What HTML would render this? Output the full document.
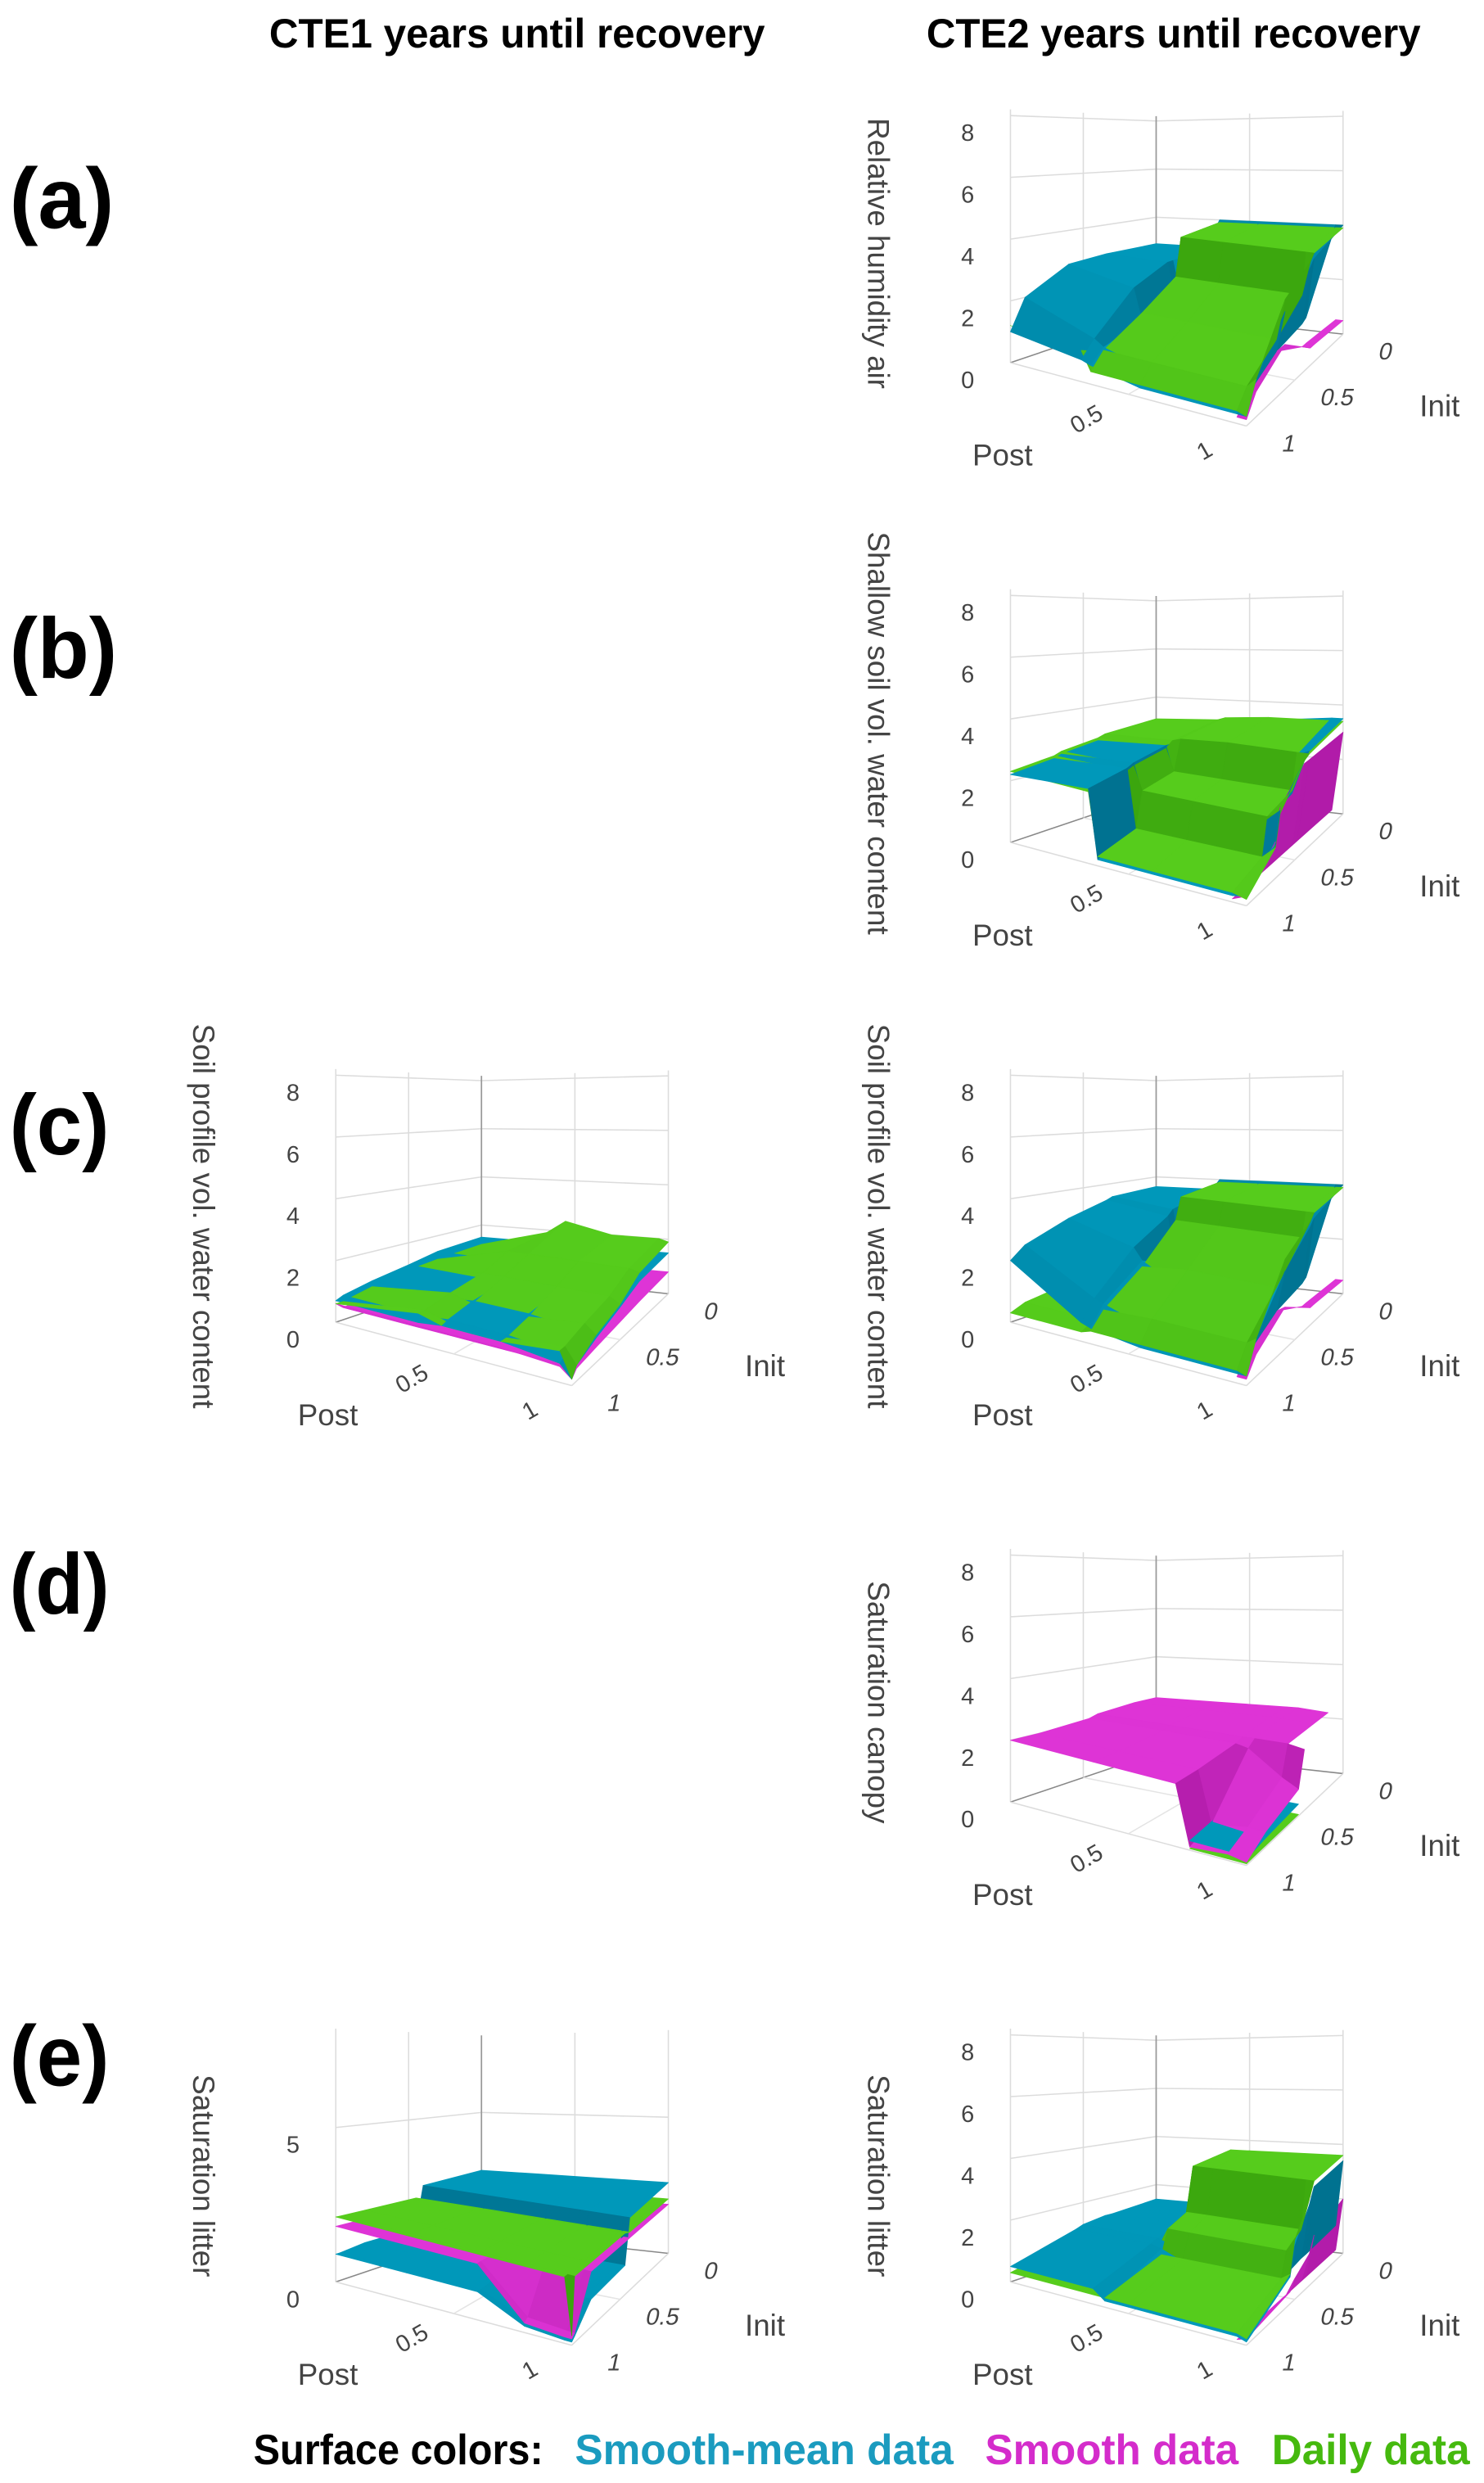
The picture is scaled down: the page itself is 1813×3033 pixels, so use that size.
<!DOCTYPE html>
<html><head><meta charset="utf-8"><title>CTE years until recovery</title>
<style>html,body{margin:0;padding:0;background:#fff}svg{display:block}
text{font-family:"Liberation Sans",sans-serif}</style></head>
<body>
<svg id="fig" xmlns="http://www.w3.org/2000/svg" width="1813" height="3033" viewBox="0 0 937 1568" preserveAspectRatio="none">
<text x="170" y="30" font-size="26" font-weight="bold" textLength="313" lengthAdjust="spacingAndGlyphs" fill="#000">CTE1 years until recovery</text>
<text x="585" y="30" font-size="26" font-weight="bold" textLength="312" lengthAdjust="spacingAndGlyphs" fill="#000">CTE2 years until recovery</text>
<text x="6" y="144" font-size="54" font-weight="bold" textLength="66" lengthAdjust="spacingAndGlyphs">(a)</text>
<text x="6" y="428" font-size="54" font-weight="bold" textLength="68" lengthAdjust="spacingAndGlyphs">(b)</text>
<text x="6" y="729" font-size="54" font-weight="bold" textLength="63" lengthAdjust="spacingAndGlyphs">(c)</text>
<text x="6" y="1019" font-size="54" font-weight="bold" textLength="63" lengthAdjust="spacingAndGlyphs">(d)</text>
<text x="6" y="1317" font-size="54" font-weight="bold" textLength="63" lengthAdjust="spacingAndGlyphs">(e)</text>
<g>
<text x="160" y="1556" font-size="27" font-weight="bold" textLength="183" lengthAdjust="spacingAndGlyphs" fill="#000">Surface colors:</text>
<text x="363" y="1556" font-size="27" font-weight="bold" textLength="239" lengthAdjust="spacingAndGlyphs" fill="#1a9bbf">Smooth-mean data</text>
<text x="622" y="1556" font-size="27" font-weight="bold" textLength="160" lengthAdjust="spacingAndGlyphs" fill="#d42ccb">Smooth data</text>
<text x="803" y="1556" font-size="27" font-weight="bold" textLength="125" lengthAdjust="spacingAndGlyphs" fill="#45b90e">Daily data</text>
</g>
</svg>
<script>
const zTicksFull = [0, 2, 4, 6, 8];
const zTicksLitter1 = [0, 5];
const postTicks = [0.5, 1];
const initTicks = [0, 0.5, 1];

// (a) CTE2 relative humidity air — rows = init, cols = post
const aR_post = [0, 0.3, 0.34, 0.55, 0.96, 1];
const aR_init = [0, 0.3, 0.34, 0.6, 0.9, 1];
const aR_blue = [[2.9,2.9,4.0,4.0,4.0,4.0],[2.9,2.9,1.5,1.5,1.5,3.6],[2.9,2.9,1.4,1.4,1.4,3.4],[2.8,2.4,1.3,1.2,1.2,2.6],[2.0,1.2,1.0,0.6,0.6,1.2],[1.0,0.7,0.6,0.3,0.3,0.3]];
const aR_magenta = [[null,null,null,null,0.5,0.5],[null,null,null,null,0.6,0.6],[null,null,null,null,0.6,0.6],[null,null,null,null,1.2,1.5],[null,null,null,null,0.6,0.8],[null,null,null,null,0.2,0.2]];
const aR_green = [[1.0,1.0,3.9,3.9,3.9,3.9],[1.0,1.0,3.8,3.8,3.8,3.8],[0.9,0.9,2.4,2.4,2.4,3.6],[0.8,0.8,1.6,1.6,1.6,3.0],[0.9,0.8,0.9,0.9,0.9,1.2],[1.2,1.0,0.4,0.4,0.4,0.3]];
// (b) CTE2 shallow soil
const bR_post = [0, 0.33, 0.37, 0.6, 0.94, 1];
const bR_init = [0, 0.35, 0.4, 0.65, 0.7, 1];
const bR_blue = [[3.0,3.1,3.2,3.3,3.5,3.5],[2.8,2.9,3.0,3.1,3.1,3.3],[2.7,2.9,1.9,1.9,1.9,3.1],[2.5,2.7,1.7,1.7,1.7,2.1],[2.4,2.6,0.5,0.5,0.5,1.1],[2.2,2.4,0.2,0.2,0.2,0.3]];
const bR_magenta = [[null,null,null,null,0.1,3.0],[null,null,null,null,0.1,3.0],[null,null,null,null,0.1,3.0],[null,null,null,null,0.1,2.2],[null,null,null,null,0.1,1.2],[null,null,null,null,0.1,0.3]];
const bR_green = [[3.1,3.2,3.3,3.4,3.4,3.4],[2.9,3.0,3.1,3.2,3.2,3.2],[2.8,2.8,2.0,2.0,2.0,3.1],[2.6,2.6,1.8,1.8,1.8,2.0],[2.5,2.5,0.6,0.6,0.6,1.0],[2.3,2.3,0.3,0.3,0.3,0.2]];
// (c) CTE1 soil profile
const cL_post = [0, 0.35, 0.45, 0.7, 0.95, 1];
const cL_init = [0, 0.3, 0.5, 0.75, 0.95, 1];
const cL_blue = [[1.5,1.5,1.5,1.5,1.5,1.5],[1.4,1.4,1.4,1.4,1.4,1.4],[1.2,1.2,1.2,1.2,1.2,1.1],[1.0,1.0,1.1,1.1,0.9,0.8],[0.8,0.8,0.9,0.9,0.7,0.5],[0.7,0.7,0.8,0.8,0.6,0.2]];
const cL_magenta = [[0.8,0.8,0.8,0.8,0.8,0.8],[0.7,0.7,0.7,0.7,0.7,0.7],[0.6,0.6,0.6,0.6,0.6,0.6],[0.5,0.5,0.5,0.5,0.5,0.5],[0.4,0.4,0.4,0.4,0.4,0.4],[0.6,0.6,0.6,0.6,0.5,0.2]];
const cL_green = [[1.2,1.9,2.4,2.0,2.0,1.9],[1.1,1.8,1.8,1.8,1.8,1.7],[1.0,1.4,1.4,1.4,1.4,1.2],[0.8,1.2,1.0,1.0,1.2,0.9],[0.6,1.0,0.8,0.8,1.0,0.5],[0.6,1.0,0.8,0.8,1.0,0.2]];
// (c) CTE2 soil profile
const cR_post = [0, 0.3, 0.34, 0.55, 0.96, 1];
const cR_init = [0, 0.3, 0.34, 0.6, 0.9, 1];
const cR_blue = [[3.6,3.6,4.0,4.0,4.0,4.0],[3.5,3.3,1.5,1.5,1.5,3.6],[3.4,3.1,1.4,1.4,1.4,3.4],[3.0,2.4,2.0,1.2,1.2,2.6],[2.4,1.2,1.1,0.6,0.6,1.2],[2.0,0.6,0.5,0.3,0.3,0.3]];
const cR_magenta = [[null,null,null,null,0.5,0.5],[null,null,null,null,0.6,0.6],[null,null,null,null,0.6,0.6],[null,null,null,null,1.2,1.4],[null,null,null,null,0.6,0.7],[null,null,null,null,0.2,0.2]];
const cR_green = [[1.0,1.0,3.9,3.9,3.9,3.9],[1.0,1.0,3.8,3.8,3.8,3.8],[0.9,0.9,3.0,3.0,3.0,3.6],[0.7,0.7,1.8,2.0,2.0,3.0],[0.5,0.5,0.9,1.0,1.0,1.2],[0.3,0.3,0.4,0.4,0.4,0.3]];
// (d) CTE2 saturation canopy
const dR_post = [0, 0.35, 0.7, 0.76, 0.92, 1];
const dR_init = [0, 0.15, 0.4, 0.46, 0.8, 1];
const dR_blue = [[null,null,null,null,null,null],[null,null,null,null,null,null],[null,null,null,null,null,null],[null,null,null,0.4,0.4,0.4],[null,null,null,0.4,0.3,0.3],[null,null,null,0.3,0.3,0.2]];
const dR_magenta = [[2.3,2.3,2.3,2.3,2.2,null],[2.3,2.3,2.3,2.3,2.2,null],[2.2,2.2,2.2,2.2,2.2,2.1],[2.1,2.1,2.1,2.0,1.2,0.9],[2.0,2.0,2.0,0.3,0.5,0.5],[2.0,2.0,2.0,0.1,0.2,0.1]];
const dR_green = [[null,null,null,null,null,null],[null,null,null,null,null,null],[null,null,null,null,null,null],[null,null,null,0.05,0.05,0.05],[null,null,null,0.05,0.05,0.05],[null,null,null,0.05,0.05,0.05]];
// (e) CTE1 saturation litter
const eL_post = [0, 0.3, 0.6, 0.8, 0.97, 1];
const eL_init = [0, 0.4, 0.45, 0.8, 0.97, 1];
const eL_blue = [[2.6,2.6,2.6,2.6,2.6,2.6],[2.5,2.5,2.5,2.5,2.5,2.5],[1.0,1.0,1.0,1.0,1.0,1.0],[1.0,1.0,1.0,1.0,0.9,0.9],[0.9,0.9,0.9,0.3,0.2,0.2],[0.9,0.9,0.9,0.2,0.1,0.1]];
const eL_magenta = [[1.8,1.8,1.8,1.8,1.8,1.8],[1.8,1.8,1.8,1.8,1.8,1.8],[1.8,1.8,1.8,1.8,1.8,1.8],[1.8,1.8,1.8,1.8,1.8,1.8],[1.8,1.8,1.8,0.4,0.3,0.3],[1.8,1.8,1.8,0.3,0.2,0.2]];
const eL_green = [[2.0,2.0,2.0,2.0,2.0,2.0],[2.0,2.0,2.0,2.0,2.0,2.0],[2.1,2.1,2.1,2.1,2.1,2.1],[2.1,2.1,2.1,2.1,2.1,2.1],[2.1,2.1,2.1,2.1,2.1,2.1],[2.1,2.1,2.1,2.1,2.1,0.3]];
// (e) CTE2 saturation litter
const eR_post = [0, 0.35, 0.4, 0.5, 0.96, 1];
const eR_init = [0, 0.3, 0.35, 0.5, 0.55, 1];
const eR_blue = [[1.4,1.4,1.4,1.0,1.0,3.4],[1.3,1.3,1.3,0.9,0.9,3.3],[1.3,1.3,1.2,0.9,0.9,2.8],[1.2,1.2,1.1,0.8,0.8,1.8],[1.1,1.1,1.0,0.7,0.7,0.9],[0.5,0.5,0.2,0.2,0.2,0.1]];
const eR_magenta = [[null,null,null,null,0.1,2.0],[null,null,null,null,0.1,1.6],[null,null,null,null,0.1,1.1],[null,null,null,null,0.1,0.7],[null,null,null,null,0.1,0.4],[null,null,null,null,0.1,0.2]];
const eR_green = [[0.9,0.9,3.6,3.6,3.6,3.6],[0.9,0.9,3.5,3.5,3.5,3.5],[0.9,0.9,1.9,1.9,1.9,3.0],[0.8,0.8,1.6,1.6,1.6,2.0],[0.8,0.8,0.8,0.8,0.8,1.0],[0.3,0.3,0.3,0.3,0.3,0.2]];

const svg = document.getElementById('fig');
const NS = 'http://www.w3.org/2000/svg';
const B = {x:730,y:198,s:15.2}, R = {x:848,y:211,s:17.2}, L = {x:638,y:229,s:19.5}, F = {x:787,y:269,s:20};
const ZTOP = 8.2;

function proj(p, i, z, dx, dy) {
  const w0=(1-p)*(1-i), w1=p*(1-i), w2=(1-p)*i, w3=p*i;
  const x = w0*B.x+w1*R.x+w2*L.x+w3*F.x;
  const y = w0*B.y+w1*R.y+w2*L.y+w3*F.y;
  const s = w0*B.s+w1*R.s+w2*L.s+w3*F.s;
  return [x+dx, y+dy - z*s];
}
function mk(tag, attrs, parent) {
  const el = document.createElementNS(NS, tag);
  for (const k in attrs) el.setAttribute(k, attrs[k]);
  parent.appendChild(el);
  return el;
}
const COLORS = {
  blue: {light:[0,152,186], dark:[0,108,138]},
  magenta: {light:[222,52,214], dark:[168,22,160]},
  green: {light:[86,204,28], dark:[52,156,10]}
};

function drawPanel(name, dx, dy, ylabel, ticks, postG, initG, series) {
  const g = mk('g', {}, svg);
  
  
  const P = (p,i,z) => proj(p,i,z,dx,dy);
  const ln = (a,b,col,w,nm) => {
    const l = mk('line', {x1:a[0],y1:a[1],x2:b[0],y2:b[1],stroke:col,'stroke-width':w}, g);
    
    
  };
  const zt = ZTOP;
  ticks.forEach(t => {
    if (t === 0) return;
    ln(P(0,1,t), P(0,0,t), '#dcdcdc', 0.8, 'gridline-z');
    ln(P(0,0,t), P(1,0,t), '#dcdcdc', 0.8, 'gridline-z');
  });
  ln(P(0,0.5,0), P(0,0.5,zt), '#dcdcdc', 0.8, 'gridline-init');
  ln(P(0.5,0,0), P(0.5,0,zt), '#dcdcdc', 0.8, 'gridline-post');
  ln(P(0,1,0), P(0,1,zt), '#dcdcdc', 0.8, 'wall-edge');
  ln(P(1,0,0), P(1,0,zt), '#dcdcdc', 0.8, 'wall-edge');
  ln(P(0,0,0), P(0,0,zt), '#999', 0.9, 'back-axis-line');
  ln(P(0,0,0), P(0,1,0), '#888', 0.8, 'floor-edge');
  ln(P(0,0,0), P(1,0,0), '#888', 0.8, 'floor-edge');
  ln(P(0,1,0), P(1,1,0), '#dcdcdc', 0.8, 'post-axis-line');
  ln(P(1,0,0), P(1,1,0), '#dcdcdc', 0.8, 'init-axis-line');
  ln(P(0.5,0,0), P(0.5,1,0), '#e4e4e4', 0.8, 'floor-grid');
  ln(P(0,0.5,0), P(1,0.5,0), '#e4e4e4', 0.8, 'floor-grid');

  const quads = [];
  for (const key in series) {
    const grid = series[key];
    for (let r = 0; r < initG.length-1; r++) {
      for (let c = 0; c < postG.length-1; c++) {
        const zz = [grid[r][c], grid[r][c+1], grid[r+1][c+1], grid[r+1][c]];
        if (zz.some(v => v === null)) continue;
        const pp = [postG[c], postG[c+1], postG[c+1], postG[c]];
        const ii = [initG[r], initG[r], initG[r+1], initG[r+1]];
        quads.push({key, pp, ii, zz, depth: (pp[0]+pp[1])/2 + (ii[0]+ii[2])/2, zavg: (zz[0]+zz[1]+zz[2]+zz[3])/4});
      }
    }
  }
  quads.sort((a,b) => (a.depth - b.depth) || (a.zavg - b.zavg));
  quads.forEach(q => {
    const k = 1/8;
    const v1 = [q.pp[2]-q.pp[0], q.ii[2]-q.ii[0], (q.zz[2]-q.zz[0])*k];
    const v2 = [q.pp[3]-q.pp[1], q.ii[3]-q.ii[1], (q.zz[3]-q.zz[1])*k];
    const n = [v1[1]*v2[2]-v1[2]*v2[1], v1[2]*v2[0]-v1[0]*v2[2], v1[0]*v2[1]-v1[1]*v2[0]];
    const len = Math.hypot(n[0],n[1],n[2]) || 1;
    const f = Math.abs(n[2])/len;
    const col = COLORS[q.key];
    const rgb = col.light.map((v,j) => Math.round(col.dark[j] + (v-col.dark[j])*f));
    const pts = [0,1,2,3].map(j => P(q.pp[j], q.ii[j], q.zz[j]).map(v=>v.toFixed(1)).join(',')).join(' ');
    const fill = 'rgb(' + rgb.join(',') + ')';
    const poly = mk('polygon', {points: pts, fill: fill, stroke: fill, 'stroke-width': 0.4, 'stroke-linejoin':'round'}, g);
    
    
  });

  ticks.forEach(t => {
    const pt = P(0,1,t);
    const tx = mk('text', {x: pt[0]-27, y: pt[1]+16, 'font-size': 15, fill: '#444', 'text-anchor': 'middle'}, g);
    
    
    tx.textContent = String(t);
  });
  postTicks.forEach(t => {
    const pt = P(t,1,0);
    const tx = mk('text', {x: 0, y: 0, 'font-size': 15, fill: '#444', 'text-anchor': 'middle', transform: `translate(${(pt[0]-24).toFixed(1)},${(pt[1]+20).toFixed(1)}) rotate(-30)`}, g);
    
    
    tx.textContent = String(t);
  });
  initTicks.forEach(t => {
    const pt = P(1,t,0);
    const tx = mk('text', {x: 0, y: 0, 'font-size': 15, fill: '#444', 'text-anchor': 'middle', transform: `translate(${(pt[0]+26).toFixed(1)},${(pt[1]+16).toFixed(1)}) skewX(-12)`}, g);
    
    
    tx.textContent = String(t);
  });
  const pl = mk('text', {x: 633+dx, y: 294+dy, 'font-size': 19, fill: '#444', 'text-anchor': 'middle'}, g);
  
  
  pl.textContent = 'Post';
  const il = mk('text', {x: 909+dx, y: 263+dy, 'font-size': 19, fill: '#444', 'text-anchor': 'middle'}, g);
  
  
  il.textContent = 'Init';
  const yl = mk('text', {x: 0, y: 0, 'font-size': 19, fill: '#444', 'text-anchor': 'middle', transform: `translate(${548+dx},${ylabel[1]+dy}) rotate(90)`}, g);
  
  
  yl.textContent = ylabel[0];
}

drawPanel('panel-a-cte2', 0, 0, ['Relative humidity air', 160], zTicksFull, aR_post, aR_init, {blue: aR_blue, magenta: aR_magenta, green: aR_green});
drawPanel('panel-b-cte2', 0, 303, ['Shallow soil vol. water content', 160], zTicksFull, bR_post, bR_init, {blue: bR_blue, magenta: bR_magenta, green: bR_green});
drawPanel('panel-c-cte1', -426, 606, ['Soil profile vol. water content', 162], zTicksFull, cL_post, cL_init, {magenta: cL_magenta, blue: cL_blue, green: cL_green});
drawPanel('panel-c-cte2', 0, 606, ['Soil profile vol. water content', 162], zTicksFull, cR_post, cR_init, {blue: cR_blue, magenta: cR_magenta, green: cR_green});
drawPanel('panel-d-cte2', 0, 909, ['Saturation canopy', 166], zTicksFull, dR_post, dR_init, {blue: dR_blue, magenta: dR_magenta, green: dR_green});
drawPanel('panel-e-cte1', -426, 1212, ['Saturation litter', 162], zTicksLitter1, eL_post, eL_init, {blue: eL_blue, magenta: eL_magenta, green: eL_green});
drawPanel('panel-e-cte2', 0, 1212, ['Saturation litter', 162], zTicksFull, eR_post, eR_init, {blue: eR_blue, magenta: eR_magenta, green: eR_green});
</script>
</body></html>
